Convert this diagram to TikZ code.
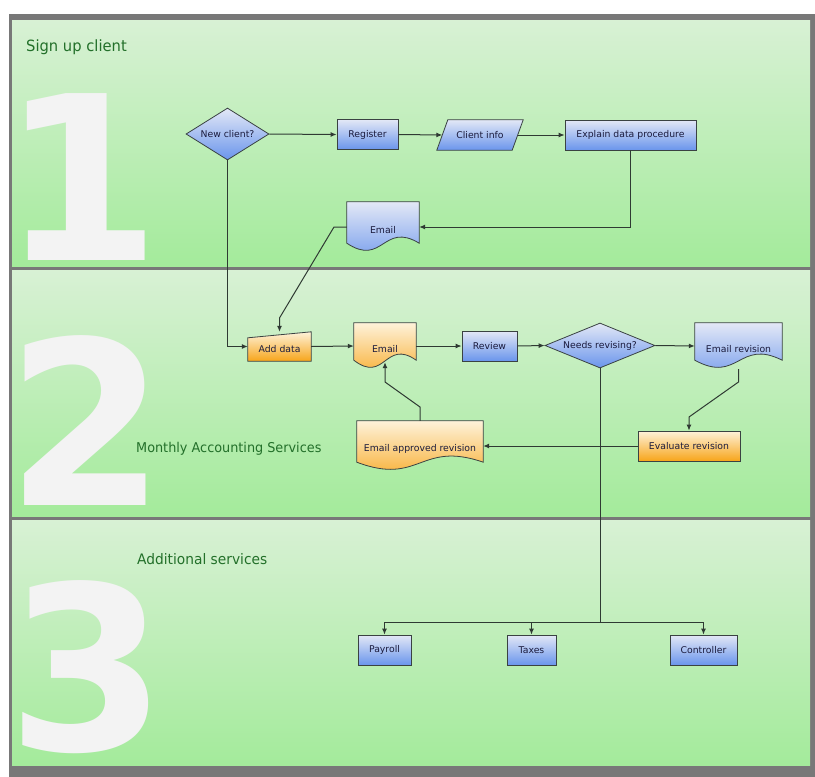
\documentclass[tikz,border=0pt]{standalone}
\usepackage{fontspec}
\setmainfont{DejaVu Sans}
\newfontfamily\titlefont[FakeStretch=0.95]{DejaVu Sans}
\usetikzlibrary{shapes.geometric,calc,arrows.meta}

\definecolor{framegray}{HTML}{787878}
\definecolor{laneT}{HTML}{F2F4F1}
\definecolor{laneB}{HTML}{96E98C}
\definecolor{numcol}{HTML}{F3F3F3}
\definecolor{titlecol}{HTML}{23702A}
\definecolor{blueT}{HTML}{E3E8F6}
\definecolor{blueB}{HTML}{6A95EC}
\definecolor{orT}{HTML}{FEF2DA}
\definecolor{orB}{HTML}{F7A51A}
\definecolor{edgecol}{HTML}{3A4242}
\definecolor{wire}{HTML}{2F3A33}
\definecolor{ink}{HTML}{1B1B3D}

\pgfdeclareverticalshading{lanefill}{100bp}{color(0bp)=(laneB); color(12bp)=(laneB); color(100bp)=(laneT)}
\pgfdeclarelayer{lanes}
\pgfdeclarelayer{shapes}
\pgfsetlayers{lanes,shapes,main}

\tikzset{
  lbl/.style={font=\fontsize{9.3}{11}\selectfont, text=ink, inner sep=0pt},
  outline/.style={draw=edgecol, line width=0.8pt},
  bluefill/.style={top color=blueT, bottom color=blueB},
  orfill/.style={top color=orT, bottom color=orB},
  box/.style={lbl, outline, rectangle, minimum height=30pt},
  decide/.style={lbl, outline, diamond, bluefill},
  % text holder for hand-drawn outlines; the label sits a little low
  holder/.style={lbl, rectangle, execute at begin node={\rule{0pt}{13pt}}},
  docpath/.style={insert path={(#1.north west) -- (#1.north east)
      -- ($(#1.south east)+(0,9pt)$)
      .. controls ($(#1.south)+(0,31pt)$) and ($(#1.south)+(0,-15pt)$)
      .. ($(#1.south west)+(0,9pt)$) -- cycle}},
  link/.style={draw=wire, line width=1pt},
  flow/.style={link, -{Latex[length=6pt,width=5pt]}},
  lanetitle/.style={text=titlecol, anchor=base west, inner sep=0pt},
  bignum/.style={text=numcol, anchor=base, inner sep=0pt,
      font=\fontsize{229}{229}\selectfont\bfseries},
}

\begin{document}
\begin{tikzpicture}[x=1pt, y=-1pt]
\useasboundingbox (0,0) rectangle (815,777);

\begin{pgfonlayer}{lanes}
  \fill[white] (0,0) rectangle (815,777);
  \fill[framegray] (9,14) rectangle (815,777);
  \shade[shading=lanefill] (12,20) rectangle (810,266);
  \shade[shading=lanefill] (12,270) rectangle (810,516);
  \shade[shading=lanefill] (12,520) rectangle (810,765);
  \node[bignum] (n1) at (81,260) {1};
  \node[bignum] (n2) at (86.5,505) {2};
  \node[bignum] (n3) at (87.5,750) {3};
\end{pgfonlayer}

% lane titles
\node[lanetitle, font=\titlefont\fontsize{15.5}{18}\selectfont] (t1) at (26,51) {Sign up client};
\node[lanetitle, font=\titlefont\fontsize{13.5}{16}\selectfont] (t2) at (136,452.5) {Monthly Accounting Services};
\node[lanetitle, font=\titlefont\fontsize{14.5}{17}\selectfont] (t3) at (137,564) {Additional services};

% lane 1
\node[decide, aspect=1.6, minimum width=83pt, minimum height=52pt] (nc) at (227.5,134) {New client?};
\node[box, bluefill, minimum width=61pt] (reg) at (367.5,134.5) {Register};
\node[lbl, rectangle, minimum width=75pt, minimum height=30pt] (ci) at (480,135) {Client info};
\node[box, bluefill, minimum width=131pt] (xp) at (630.5,135) {Explain data procedure};
\node[holder, minimum width=72pt, minimum height=50pt] (e1) at (383,227) {Email};

% lane 2
\node[holder, minimum width=63pt, minimum height=29pt] (ad) at (279.5,346.5) {Add data};
\node[holder, minimum width=62pt, minimum height=46pt] (e2) at (385,346) {Email};
\node[box, bluefill, minimum width=55pt] (rv) at (489.5,346) {Review};
\node[decide, aspect=2.44, minimum width=110pt, minimum height=45pt] (nr) at (600,345.5) {Needs revising?};
\node[holder, minimum width=87pt, minimum height=46pt] (er) at (738.5,346) {Email revision};
\node[box, orfill, minimum width=102pt] (ev) at (689,446) {Evaluate revision};
\node[holder, minimum width=126pt, minimum height=50pt] (eap) at (420,446) {Email approved revision};

% lane 3
\node[box, bluefill, minimum width=53pt] (pay) at (384.5,650) {Payroll};
\node[box, bluefill, minimum width=49pt] (tax) at (531.5,650) {Taxes};
\node[box, bluefill, minimum width=67pt] (ctl) at (703.5,650) {Controller};

% outlines of the document, data and manual-input symbols
\begin{pgfonlayer}{shapes}
  \path[outline, bluefill] ($(ci.south west)+(-5.5pt,0)$) -- ($(ci.south east)+(-5.5pt,0)$)
       -- ($(ci.north east)+(5.5pt,0)$) -- ($(ci.north west)+(5.5pt,0)$) -- cycle;
  \path[outline, bluefill, docpath=e1];
  \path[outline, orfill] (ad.south west) -- (ad.south east) -- (ad.north east)
       -- ($(ad.north west)+(0,-6pt)$) -- cycle;
  \path[outline, orfill, docpath=e2];
  \path[outline, bluefill, docpath=er];
  \path[outline, orfill, docpath=eap];
\end{pgfonlayer}

% bend points of the connectors
\coordinate (k1) at (334,227);
\coordinate (k2) at (279.5,318);
\coordinate (k3) at (738.5,382);
\coordinate (k4) at (689,417);
\coordinate (k5) at (420,407);
\coordinate (k6) at (385,382);
\coordinate (e2b) at ($(e2.south)+(0,7pt)$);
\coordinate (br) at (600,622);

\draw[flow] (nc.east) -- (reg.west);
\draw[flow] (reg.east) -- (ci.west);
\draw[flow] (ci.east) -- (xp.west);
\draw[flow] (xp.south) |- (e1.east);
\draw[flow] (e1.west) -- (k1) -- (k2) -- (ad.north);
\draw[flow] (nc.south) |- (ad.west);
\draw[flow] (ad.east) -- (e2.west);
\draw[flow] (e2.east) -- (rv.west);
\draw[flow] (rv.east) -- (nr.west);
\draw[flow] (nr.east) -- (er.west);
\draw[flow] (er.south) -- (k3) -- (k4) -- (ev.north);
\draw[flow] (ev.west) -- (eap.east);
\draw[flow] (eap.north) -- (k5) -- (k6) -- (e2b);
\draw[link] (nr.south) -- (br);
\draw[flow] (br) -| (pay.north);
\draw[flow] (br) -| (ctl.north);
\draw[flow] (br -| tax.north) -- (tax.north);
\end{tikzpicture}
\end{document}
